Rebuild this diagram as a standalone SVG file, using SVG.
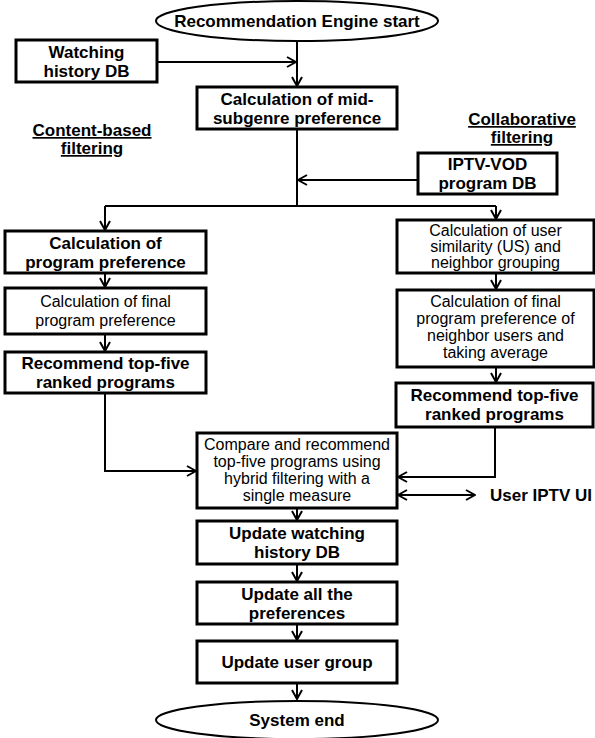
<svg xmlns="http://www.w3.org/2000/svg" width="595" height="738" viewBox="0 0 595 738">
<defs>
<marker id="ah" viewBox="0 0 12 12" refX="11" refY="6" markerWidth="12" markerHeight="12" markerUnits="userSpaceOnUse" orient="auto-start-reverse">
<polyline points="2,1 11,6 2,11" fill="none" stroke="#000" stroke-width="2"/>
</marker>
<style>
.box{fill:#fff;stroke:#000;stroke-width:3}
.ell{fill:#fff;stroke:#000;stroke-width:2}
.t{font-family:"Liberation Sans",Arial,sans-serif;font-size:17px;font-weight:bold;text-anchor:middle;fill:#000}
.n{font-family:"Liberation Sans",Arial,sans-serif;font-size:16px;text-anchor:middle;fill:#000}
.u{text-decoration:underline}
.c{fill:none;stroke:#000;stroke-width:2;marker-end:url(#ah)}
.cl{fill:none;stroke:#000;stroke-width:2}
</style>
</defs>
<rect width="595" height="738" fill="#fff"/>
<g id="connectors">
<path class="c" d="M157,62 H296"/>
<path class="c" d="M297,42 V86"/>
<path class="cl" d="M297,129 V206"/>
<path class="c" d="M418,180 H298"/>
<path class="c" d="M105,206 V230" />
<path class="cl" d="M105,206 H496"/>
<path class="c" d="M496,206 V219"/>
<path class="c" d="M105,273 V287"/>
<path class="c" d="M105,334 V351"/>
<path class="c" d="M105,393 V471 H196"/>
<path class="c" d="M496,273 V289"/>
<path class="c" d="M496,367 V382"/>
<path class="c" d="M495,427 V477 H398"/>
<path class="c" d="M398,495 H475" style="marker-start:url(#ah)"/>
<path class="c" d="M297,508 V520"/>
<path class="c" d="M297,564 V581"/>
<path class="c" d="M297,624 V640"/>
<path class="c" d="M297,683 V699"/>
</g>
<g id="start">
<ellipse class="ell" cx="297" cy="21" rx="141" ry="20"/>
<text class="t" x="297" y="27">Recommendation Engine start</text>
</g>
<g id="watching-db">
<rect class="box" x="16" y="40" width="141" height="42"/>
<text class="t" x="86.5" y="58">Watching</text>
<text class="t" x="86.5" y="77">history DB</text>
</g>
<g id="mid-subgenre">
<rect class="box" x="197" y="87" width="200" height="42"/>
<text class="t" x="297" y="105">Calculation of mid-</text>
<text class="t" x="297" y="124">subgenre preference</text>
</g>
<g id="content-label">
<text class="t u" x="92" y="136">Content-based</text>
<text class="t u" x="92" y="154">filtering</text>
</g>
<g id="collab-label">
<text class="t u" x="522" y="125">Collaborative</text>
<text class="t u" x="522" y="143">filtering</text>
</g>
<g id="iptv-vod-db">
<rect class="box" x="418" y="153" width="139" height="41"/>
<text class="t" x="487.5" y="170">IPTV-VOD</text>
<text class="t" x="487.5" y="189">program DB</text>
</g>
<g id="program-pref">
<rect class="box" x="5" y="231" width="201" height="42"/>
<text class="t" x="105.5" y="249">Calculation of</text>
<text class="t" x="105.5" y="268">program preference</text>
</g>
<g id="final-pref">
<rect class="box" x="5" y="288" width="201" height="46"/>
<text class="n" x="105.5" y="307">Calculation of final</text>
<text class="n" x="105.5" y="326">program preference</text>
</g>
<g id="recommend-left">
<rect class="box" x="5" y="352" width="201" height="41"/>
<text class="t" x="105.5" y="369">Recommend top-five</text>
<text class="t" x="105.5" y="388">ranked programs</text>
</g>
<g id="user-similarity">
<rect class="box" x="397" y="220" width="197" height="53"/>
<text class="n" x="495.5" y="236">Calculation of user</text>
<text class="n" x="495.5" y="252">similarity (US) and</text>
<text class="n" x="495.5" y="268">neighbor grouping</text>
</g>
<g id="neighbor-pref">
<rect class="box" x="397" y="290" width="197" height="77"/>
<text class="n" x="495.5" y="307">Calculation of final</text>
<text class="n" x="495.5" y="324">program preference of</text>
<text class="n" x="495.5" y="341">neighbor users and</text>
<text class="n" x="495.5" y="358">taking average</text>
</g>
<g id="recommend-right">
<rect class="box" x="396" y="383" width="197" height="44"/>
<text class="t" x="494.5" y="401">Recommend top-five</text>
<text class="t" x="494.5" y="420">ranked programs</text>
</g>
<g id="compare">
<rect class="box" x="197" y="433" width="200" height="75"/>
<text class="n" x="297" y="450">Compare and recommend</text>
<text class="n" x="297" y="467">top-five programs using</text>
<text class="n" x="297" y="484">hybrid filtering with a</text>
<text class="n" x="297" y="501">single measure</text>
</g>
<g id="user-ui">
<text class="t" x="541" y="501">User IPTV UI</text>
</g>
<g id="update-history">
<rect class="box" x="197" y="521" width="200" height="43"/>
<text class="t" x="297" y="539">Update watching</text>
<text class="t" x="297" y="558">history DB</text>
</g>
<g id="update-prefs">
<rect class="box" x="197" y="582" width="200" height="42"/>
<text class="t" x="297" y="600">Update all the</text>
<text class="t" x="297" y="619">preferences</text>
</g>
<g id="update-group">
<rect class="box" x="197" y="641" width="200" height="42"/>
<text class="t" x="297" y="668">Update user group</text>
</g>
<g id="end">
<ellipse class="ell" cx="297" cy="720" rx="141" ry="19"/>
<text class="t" x="297" y="726">System end</text>
</g>
</svg>
